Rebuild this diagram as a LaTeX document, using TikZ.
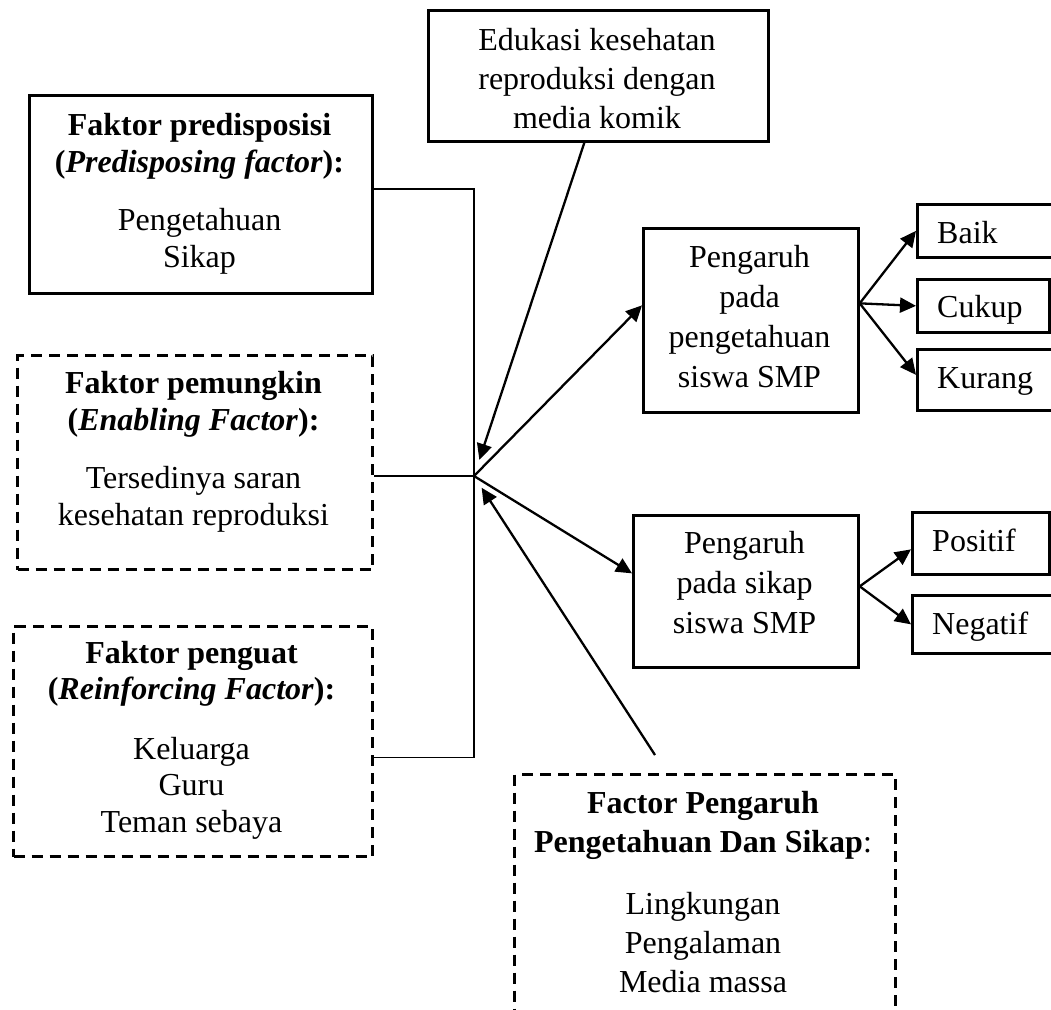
\documentclass[tikz,border=0pt]{standalone}
\usepackage{fontspec}
\setmainfont{Liberation Serif}
\usetikzlibrary{arrows.meta,calc}
\begin{document}
\begin{tikzpicture}[x=1pt,y=-1pt,
  bx/.style={draw, line width=2.7pt, inner sep=0pt, anchor=north west},
  dbx/.style={bx, line width=3pt, dash pattern=on 11pt off 7pt},
  tx/.style={inner sep=0pt, align=center, anchor=base, font=\fontsize{32}{39}\selectfont},
  txl/.style={inner sep=0pt, anchor=base west, font=\fontsize{32}{39}\selectfont},
  ln/.style={line width=1.9pt},
  arr/.style={line width=2.3pt, -{Triangle[length=16pt,width=15pt]}}]
\useasboundingbox (0,0) rectangle (1051,1009);
\clip (0,0) rectangle (1051,1009);
% boxes
\node[bx,  minimum width=340pt, minimum height=131pt] (edu) at (427,9) {};
\node[bx,  minimum width=343pt, minimum height=198pt] (pred) at (28,94) {};
\node[dbx, minimum width=355pt, minimum height=214pt] (enab) at (16,354) {};
\node[dbx, minimum width=359pt, minimum height=230pt] (rein) at (12,625) {};
\node[dbx, minimum width=381pt, minimum height=246pt] (fac) at (513,773) {};
\node[bx,  minimum width=215pt, minimum height=184pt] (peng) at (642,227) {};
\node[bx,  minimum width=225pt, minimum height=152pt] (sik) at (632,514) {};
\node[bx,  minimum width=150pt, minimum height=53pt] (baik) at (916,203) {};
\node[bx,  minimum width=132pt, minimum height=53pt] (cukup) at (916,278) {};
\node[bx,  minimum width=150pt, minimum height=61pt] (kurang) at (916,348) {};
\node[bx,  minimum width=137pt, minimum height=62pt] (pos) at (911,511) {};
\node[bx,  minimum width=150pt, minimum height=58pt] (neg) at (911,594) {};
% texts (anchored at the baseline of the last line)
\node[tx] (eduT) at (597,128) {Edukasi kesehatan\\reproduksi dengan\\media komik};
\node[tx, font=\fontsize{32}{37}\selectfont] (predT) at (199.5,267)
  {\textbf{Faktor predisposisi}\\\textbf{(\textit{Predisposing factor}):}\\[21pt]Pengetahuan\\Sikap};
\node[tx, font=\fontsize{32}{37}\selectfont] (enabT) at (193.5,525)
  {\textbf{Faktor pemungkin}\\\textbf{(\textit{Enabling Factor}):}\\[21pt]Tersedinya saran\\kesehatan reproduksi};
\node[tx, font=\fontsize{32}{36.5}\selectfont] (reinT) at (191.5,832)
  {\textbf{Faktor penguat}\\\textbf{(\textit{Reinforcing Factor}):}\\[23pt]Keluarga\\Guru\\Teman sebaya};
\node[tx] (facT) at (703,992)
  {\textbf{Factor Pengaruh}\\\textbf{Pengetahuan Dan Sikap}:\\[23pt]Lingkungan\\Pengalaman\\Media massa};
\node[tx, font=\fontsize{32}{40}\selectfont] (pengT) at (749.5,387) {Pengaruh\\pada\\pengetahuan\\siswa SMP};
\node[tx, font=\fontsize{32}{40}\selectfont] (sikT) at (744.5,633) {Pengaruh\\pada sikap\\siswa SMP};
\node[txl] (baikT) at (937,243) {Baik};
\node[txl] (cukupT) at (937,317) {Cukup};
\node[txl] (kurangT) at (937,388) {Kurang};
\node[txl] (posT) at (932,551) {Positif};
\node[txl] (negT) at (932,634) {Negatif};
% hub and connectors
\coordinate (hub) at (474,476);
\coordinate (facarr) at (655,755);
\draw[ln] ([yshift=5pt]pred.east) -| (hub) |- ([yshift=-16pt]rein.east);
\draw[ln] (hub) -- (hub -| enab.east);
\draw[arr, shorten >=17pt] ([xshift=-14pt]edu.south) -- (hub);
\draw[arr, shorten >=14pt] (facarr) -- (hub);
\draw[arr] (hub) -- ([yshift=15pt]peng.west);
\draw[arr] (hub) -- ([yshift=18pt]sik.west);
\draw[arr] ([yshift=17pt]peng.east) -- (baik.west);
\draw[arr] ([yshift=17pt]peng.east) -- (cukup.west);
\draw[arr] ([yshift=17pt]peng.east) -- ([yshift=5pt]kurang.west);
\draw[arr] ([yshift=5pt]sik.east) -- ([yshift=-6pt]pos.west);
\draw[arr] ([yshift=5pt]sik.east) -- (neg.west);
\end{tikzpicture}
\end{document}
